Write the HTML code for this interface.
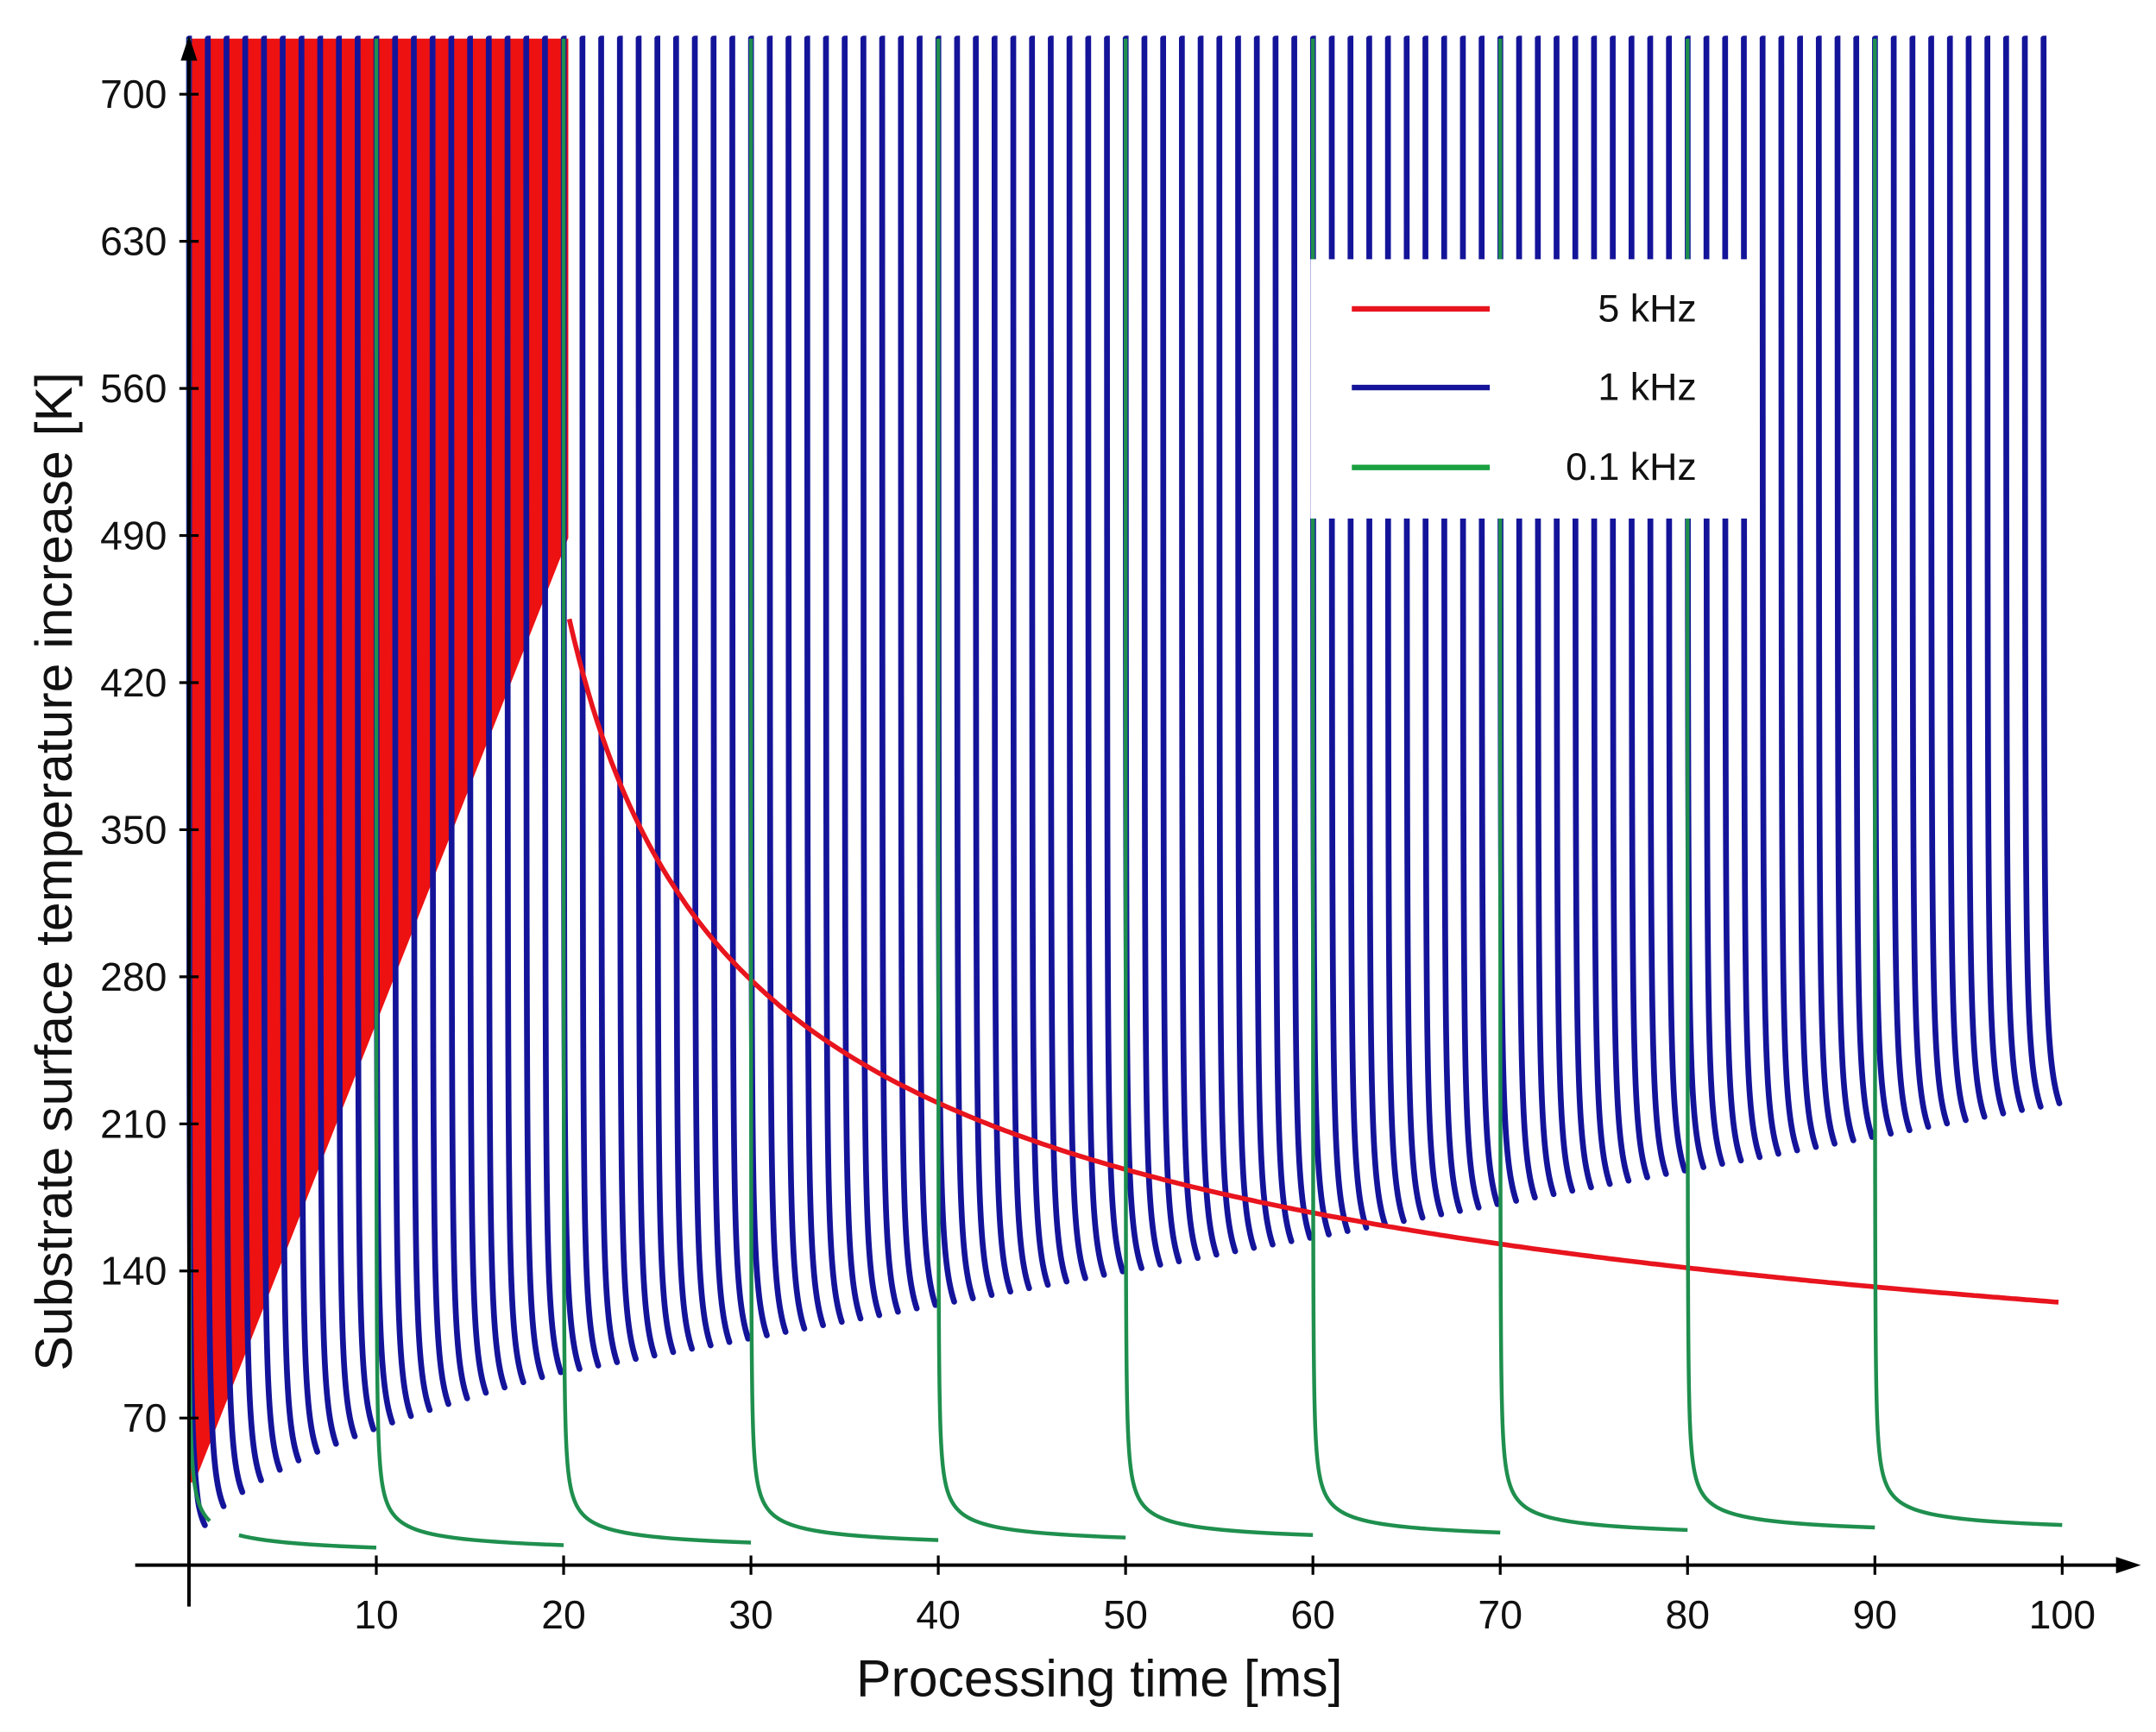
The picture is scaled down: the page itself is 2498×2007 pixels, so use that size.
<!DOCTYPE html>
<html><head><meta charset="utf-8"><style>
html,body{margin:0;padding:0;background:#fff;}
svg{display:block;}
text{font-family:"Liberation Sans",Arial,sans-serif;fill:#111;}
</style></head><body>
<svg id="s" width="2498" height="2007" viewBox="0 0 1563 1256" preserveAspectRatio="none" xmlns="http://www.w3.org/2000/svg">
<rect width="1563" height="1256" fill="#fff"/>
<polygon points="137,28 412,28 412,390 141,1075 137,1075" fill="#ee1111"/>
<g id="blue" fill="none" stroke="#14149a" stroke-width="4.2" stroke-linecap="round"></g>
<path id="red" fill="none" stroke="#e8141e" stroke-width="3.5"/>
<g id="green" fill="none" stroke="#1f8f4e" stroke-width="2.8"></g>
<rect x="950" y="188" width="318" height="188" fill="#fff"/>
<line x1="980" y1="224" x2="1080" y2="224" stroke="#e8141e" stroke-width="4"/>
<line x1="980" y1="281" x2="1080" y2="281" stroke="#14149a" stroke-width="4"/>
<line x1="980" y1="339" x2="1080" y2="339" stroke="#1aa040" stroke-width="4"/>
<text x="1230" y="233" font-size="28" text-anchor="end">5 kHz</text>
<text x="1230" y="290" font-size="28" text-anchor="end">1 kHz</text>
<text x="1230" y="348" font-size="28" text-anchor="end">0.1 kHz</text>
<line x1="137" y1="40" x2="137" y2="1165" stroke="#000" stroke-width="2.5"/>
<polygon points="137,26 131,44 143,44" fill="#000"/>
<line x1="98" y1="1135" x2="1538" y2="1135" stroke="#000" stroke-width="2.5"/>
<polygon points="1552,1135 1534,1129 1534,1141" fill="#000"/>
<g id="ticks" stroke="#000" stroke-width="2"></g>
<g id="labels"></g>
<text x="797" y="1230" font-size="38" text-anchor="middle">Processing time [ms]</text>
<text transform="translate(52,632) rotate(-90)" font-size="38" text-anchor="middle">Substrate surface temperature increase [K]</text>
</svg>
<script>
var X=function(t){return 137+13.58*t;}, Y=function(T){return 1135-1.5238*T;};
function cl(y){return Math.max(28,y);}
var ns="http://www.w3.org/2000/svg";
var g=document.getElementById('blue');
function bb(t){t=Math.max(t,0.5);return t<=20?20.6*Math.sqrt(t):92+1.6*(t-20);}
var E=0.85,A=45;
for(var i=0;i<100;i++){
  var d="";
  for(var k=0;k<=80;k++){
    var dt=0.0005*Math.pow(E/0.0005,k/80);
    var T=bb(i+dt)+A*(1/Math.sqrt(dt)-1/Math.sqrt(E));
    var y=cl(Y(T)),x=X(i+dt).toFixed(2);
    if(k==0)d="M"+x+",28";
    d+="L"+x+","+y.toFixed(2);
  }
  var p=document.createElementNS(ns,'path');p.setAttribute('d',d);g.appendChild(p);
}
var d="";
for(var t=20.3;t<=100.01;t+=0.25){var T=125*Math.pow(85/(t-15),0.4618);d+=(d?"L":"M")+X(t).toFixed(1)+","+Y(T).toFixed(1);}
document.getElementById('red').setAttribute('d',d);
var gg=document.getElementById('green');
for(var i=0;i<10;i++){
  var t0=i*10,d="",b0=2+i*1.2,pen=false;
  for(var k=0;k<=90;k++){
    var dt=0.0005*Math.pow(20000,k/90);
    var T=b0+20/Math.sqrt(dt);
    if(i==0&&dt>1.2&&dt<2.5){pen=false;continue;}
    var y=cl(Y(T)),x=X(t0+dt).toFixed(2);
    if(k==0)d="M"+x+",28";
    d+=(pen||k==0?"L":"M")+x+","+y.toFixed(2);pen=true;
  }
  var p=document.createElementNS(ns,'path');p.setAttribute('d',d);gg.appendChild(p);
}
var tk=document.getElementById('ticks'),lb=document.getElementById('labels');
function line(x1,y1,x2,y2){var l=document.createElementNS(ns,'line');l.setAttribute('x1',x1);l.setAttribute('y1',y1);l.setAttribute('x2',x2);l.setAttribute('y2',y2);tk.appendChild(l);}
function txt(x,y,s,a){var t=document.createElementNS(ns,'text');t.setAttribute('x',x);t.setAttribute('y',y);t.setAttribute('font-size','29');t.setAttribute('text-anchor',a);t.textContent=s;lb.appendChild(t);}
for(var v=10;v<=100;v+=10){var x=X(v);line(x,1128,x,1142);txt(x,1181,String(v),'middle');}
for(var v=70;v<=700;v+=70){var y=Y(v);line(130,y,144,y);txt(121,y+10,String(v),'end');}
</script>
</body></html>
